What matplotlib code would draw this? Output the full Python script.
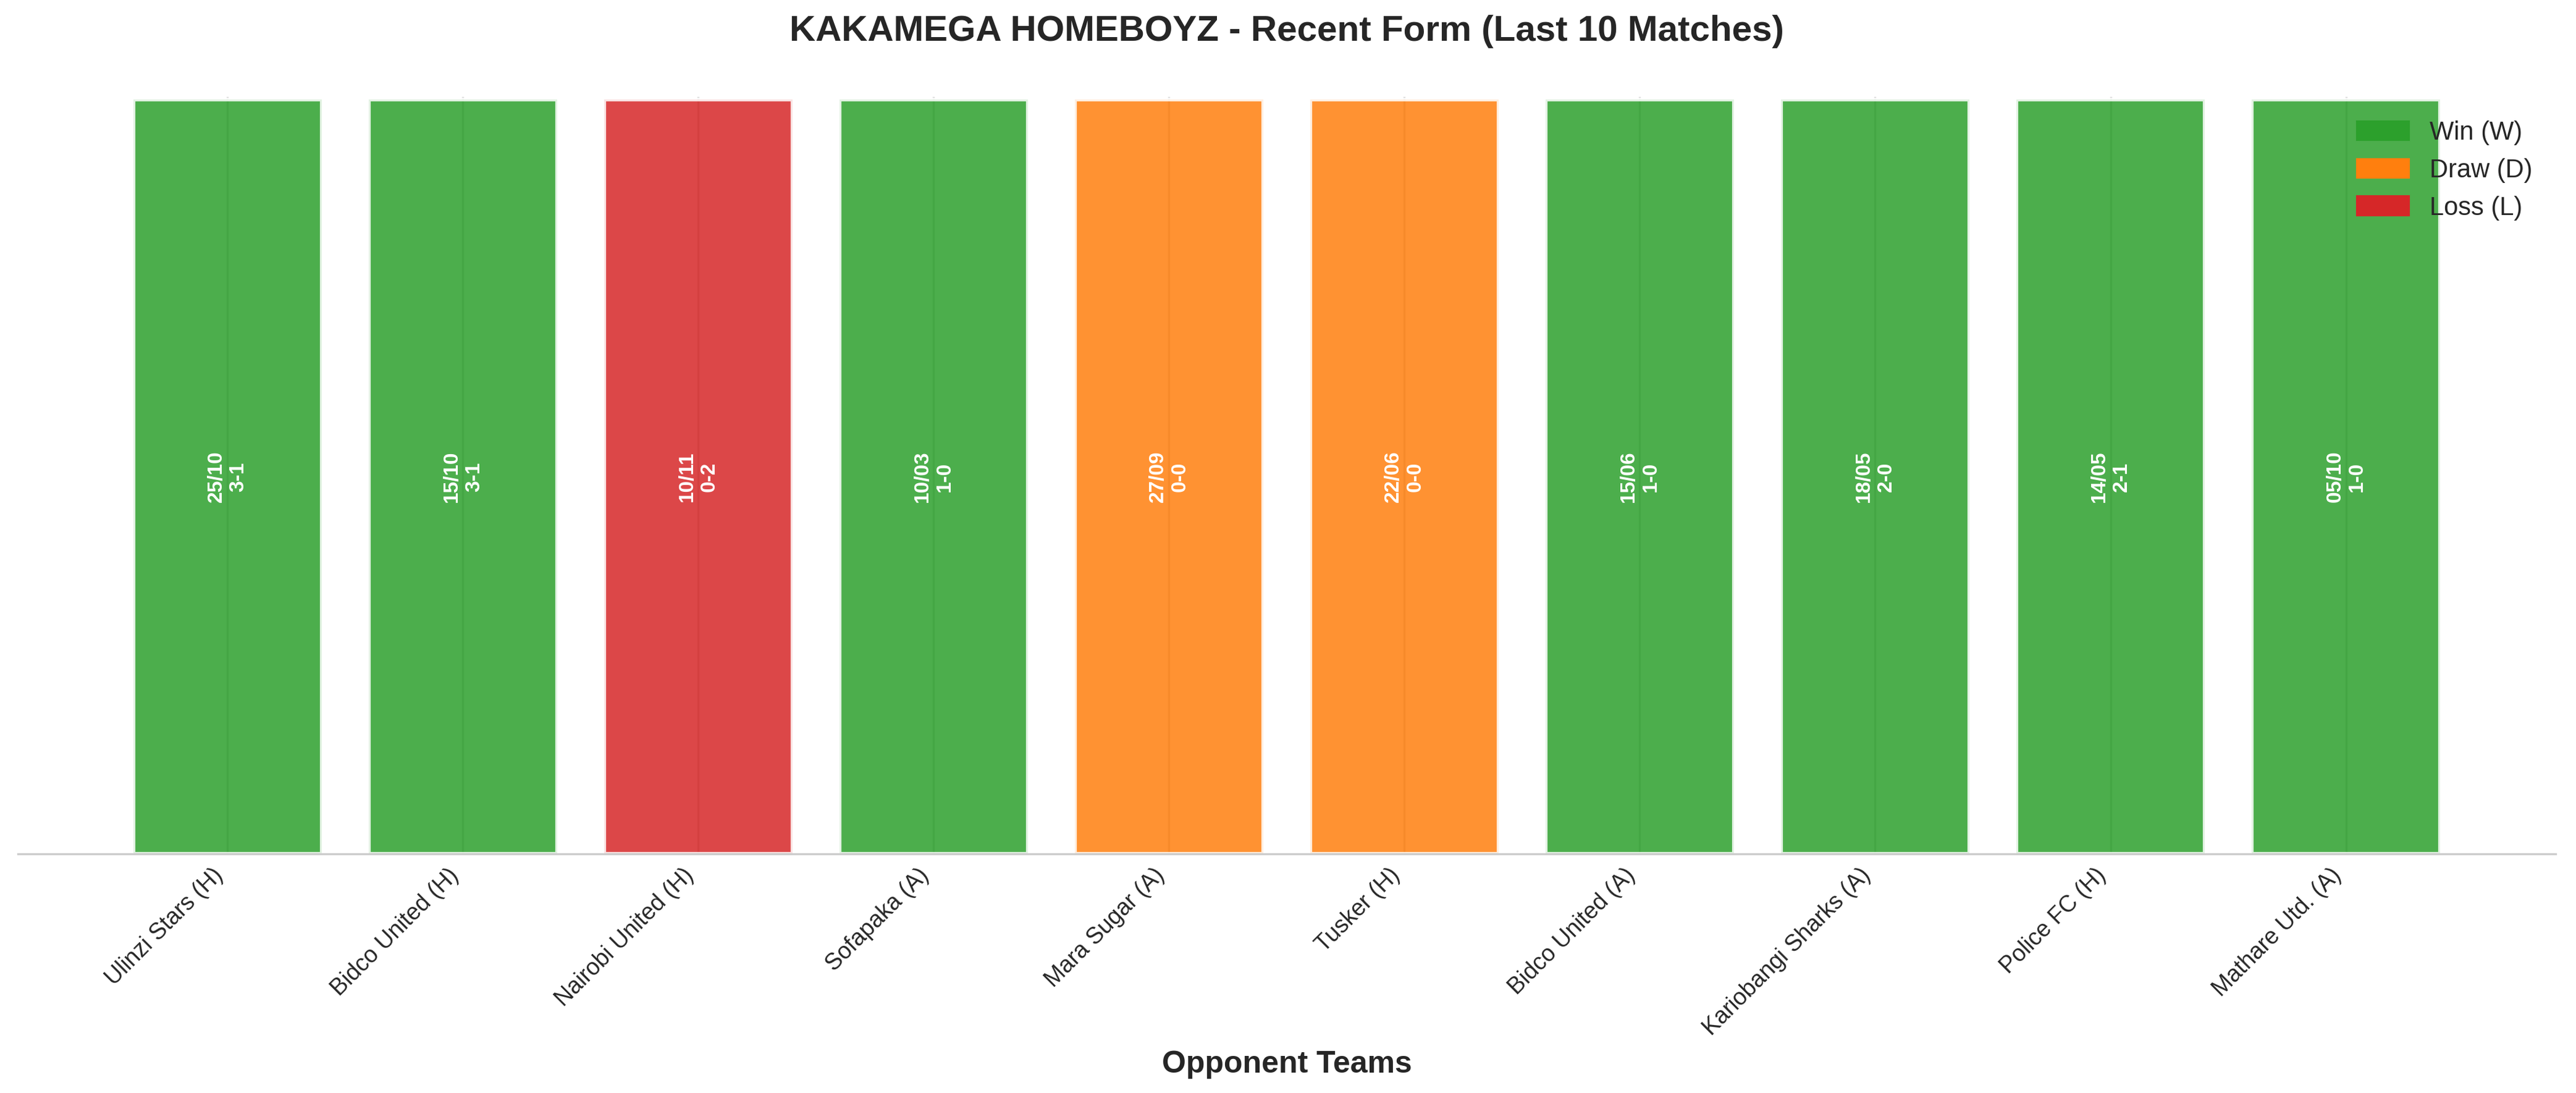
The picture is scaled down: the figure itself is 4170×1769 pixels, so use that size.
import matplotlib
matplotlib.use("Agg")
import matplotlib.pyplot as plt
from matplotlib.patches import Patch

plt.rcParams['font.family'] = ['Liberation Sans', 'DejaVu Sans']
plt.rcParams['text.color'] = '#262626'
plt.rcParams['xtick.color'] = '#262626'
plt.rcParams['axes.labelcolor'] = '#262626'

# last 10 matches (most recent first)
opponents = ['Ulinzi Stars (H)', 'Bidco United (H)', 'Nairobi United (H)', 'Sofapaka (A)',
             'Mara Sugar (A)', 'Tusker (H)', 'Bidco United (A)', 'Kariobangi Sharks (A)',
             'Police FC (H)', 'Mathare Utd. (A)']
results = ['W', 'W', 'L', 'W', 'D', 'D', 'W', 'W', 'W', 'W']
dates = ['25/10', '15/10', '10/11', '10/03', '27/09', '22/06', '15/06', '18/05', '14/05', '05/10']
scores = ['3-1', '3-1', '0-2', '1-0', '0-0', '0-0', '1-0', '2-0', '2-1', '1-0']
bar_height = [1] * len(opponents)

colors = {'W': '#2ca02c', 'D': '#ff7f0e', 'L': '#d62728'}
labels = {'W': 'Win (W)', 'D': 'Draw (D)', 'L': 'Loss (L)'}

fig = plt.figure(figsize=(13.9, 5.897), dpi=300)
ax = fig.add_axes([0.007, 0.219, 0.985, 0.692])

x = list(range(len(opponents)))
ax.set_axisbelow(True)
ax.grid(axis='x', color='#cccccc', linewidth=0.8)
bars = ax.bar(x, bar_height, width=0.8, color=[colors[r] for r in results],
              alpha=0.85, edgecolor='white', linewidth=1.5)

for i, b in enumerate(bars):
    ax.text(b.get_x() + b.get_width() / 2, 0.5, f"{dates[i]}\n{scores[i]}",
            ha='center', va='center', rotation=90, color='white',
            fontsize=8, fontweight='bold')

ax.set_ylim(0, 1.003)
ax.set_xticks(x)
ax.set_xticklabels(opponents, rotation=45, ha='right', fontsize=9)
ax.tick_params(axis='x', length=0, pad=4)
ax.set_yticks([])
ax.set_xlabel('Opponent Teams', fontsize=12, fontweight='bold', labelpad=4)
ax.set_title('KAKAMEGA HOMEBOYZ - Recent Form (Last 10 Matches)',
             fontsize=14, fontweight='bold', pad=22)

for s in ['top', 'left', 'right']:
    ax.spines[s].set_visible(False)
ax.spines['bottom'].set_color('#cccccc')

handles = [Patch(color=colors[k], label=labels[k]) for k in ['W', 'D', 'L']]
ax.legend(handles=handles, loc='upper right', frameon=False, fontsize=10)

fig.savefig('out.png', dpi=300)
